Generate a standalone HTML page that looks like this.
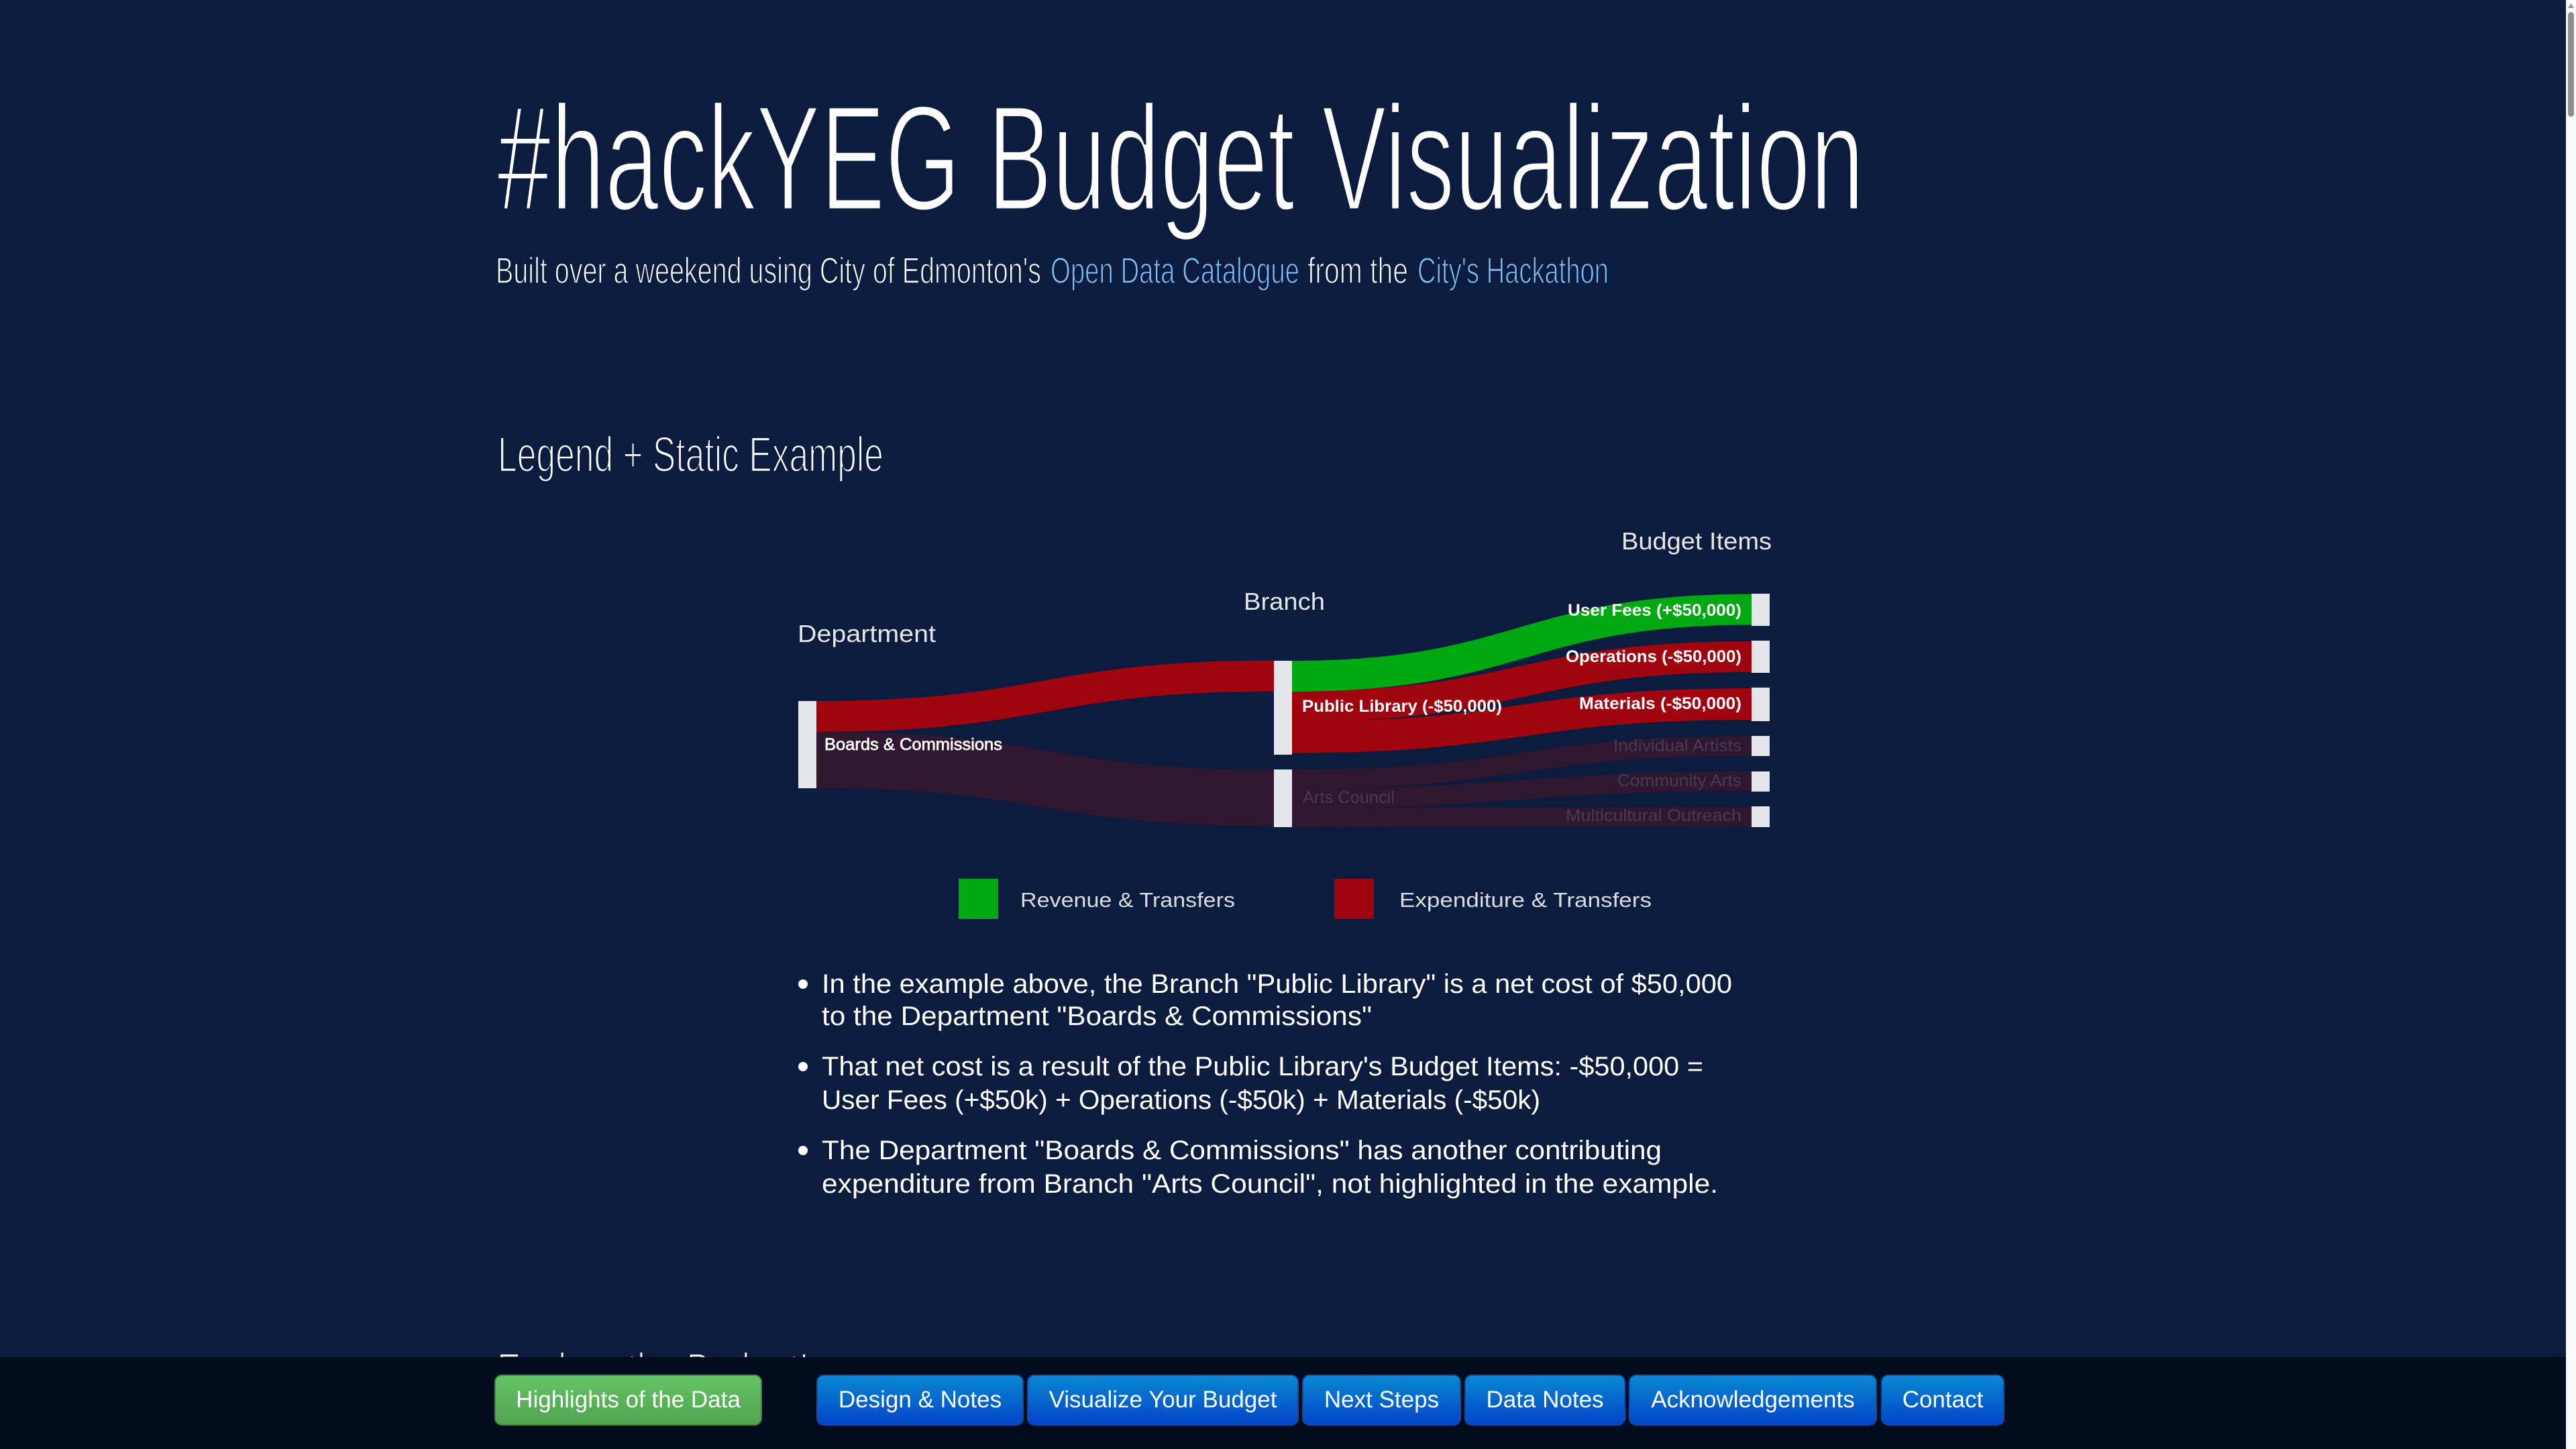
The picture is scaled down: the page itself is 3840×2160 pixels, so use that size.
<!DOCTYPE html>
<html><head><meta charset="utf-8">
<style>
html,body{margin:0;padding:0;width:3840px;height:2160px;overflow:hidden;background:#0b1c3e;}
svg{position:absolute;left:0;top:0;}
text{font-family:"Liberation Sans",Arial,sans-serif;}
</style></head>
<body>
<svg width="3840" height="2160" viewBox="0 0 3840 2160" xmlns="http://www.w3.org/2000/svg">
<defs>
<linearGradient id="gb" x1="0" y1="0" x2="0" y2="1"><stop offset="0" stop-color="#0a8ad2"/><stop offset="1" stop-color="#0243c8"/></linearGradient>
<linearGradient id="gg" x1="0" y1="0" x2="0" y2="1"><stop offset="0" stop-color="#64c464"/><stop offset="1" stop-color="#51a351"/></linearGradient>
</defs>
<rect x="0" y="0" width="3840" height="2160" fill="#0b1c3e"/>

<!-- Title -->
<text x="741" y="313" font-size="224" fill="#ffffff" stroke="#0b1c3e" stroke-width="5" textLength="2038" lengthAdjust="spacingAndGlyphs">#hackYEG Budget Visualization</text>
<!-- Subtitle -->
<g stroke="#0b1c3e" stroke-width="1.6">
<text x="739" y="422" font-size="55" fill="#ffffff" textLength="813" lengthAdjust="spacingAndGlyphs">Built over a weekend using City of Edmonton's</text>
<text x="1566" y="422" font-size="55" fill="#80bff5" textLength="371" lengthAdjust="spacingAndGlyphs">Open Data Catalogue</text>
<text x="1949" y="422" font-size="55" fill="#ffffff" textLength="150" lengthAdjust="spacingAndGlyphs">from the</text>
<text x="2113" y="422" font-size="55" fill="#80bff5" textLength="285" lengthAdjust="spacingAndGlyphs">City's Hackathon</text>
</g>

<!-- Heading -->
<text x="742" y="703" font-size="74" fill="#ffffff" stroke="#0b1c3e" stroke-width="2.5" textLength="575" lengthAdjust="spacingAndGlyphs">Legend + Static Example</text>

<!-- Sankey column titles -->
<text x="1189" y="957" font-size="36" fill="#e6e6e6" textLength="206" lengthAdjust="spacingAndGlyphs">Department</text>
<text x="1854" y="909" font-size="36" fill="#e6e6e6" textLength="121" lengthAdjust="spacingAndGlyphs">Branch</text>
<text x="2417" y="819" font-size="36" fill="#e6e6e6" textLength="224" lengthAdjust="spacingAndGlyphs">Budget Items</text>

<!-- Links: dark -->
<g fill="none" stroke="#2f1730">
<path d="M1216,1133 C1558,1133 1558,1189.5 1900,1189.5" stroke-width="84"/>
<path d="M1926,1161.5 C2268,1161.5 2268,1112 2611,1112" stroke-width="29"/>
<path d="M1926,1190 C2268,1190 2268,1164.5 2611,1164.5" stroke-width="29"/>
<path d="M1926,1218.5 C2268,1218.5 2268,1217 2611,1217" stroke-width="29"/>
</g>
<!-- Links: red/green -->
<g fill="none">
<path d="M1216,1068 C1558,1068 1558,1007.5 1900,1007.5" stroke="#a0040f" stroke-width="46"/>
<path d="M1926,1099 C2268,1099 2268,1049.5 2611,1049.5" stroke="#a0040f" stroke-width="47"/>
<path d="M1926,1053 C2268,1053 2268,979 2611,979" stroke="#a0040f" stroke-width="46"/>
<path d="M1926,1008 C2268,1008 2268,908.5 2611,908.5" stroke="#00a812" stroke-width="46"/>
</g>

<!-- Nodes -->
<g fill="#e5e6e9">
<rect x="1190" y="1045" width="27" height="130"/>
<rect x="1899" y="985" width="27" height="140"/>
<rect x="1899" y="1147" width="27" height="86"/>
<rect x="2611" y="885" width="27" height="48"/>
<rect x="2611" y="955" width="27" height="48"/>
<rect x="2611" y="1025" width="27" height="50"/>
<rect x="2611" y="1097" width="27" height="30"/>
<rect x="2611" y="1150" width="27" height="30"/>
<rect x="2611" y="1202" width="27" height="31"/>
</g>

<!-- Node labels -->
<g font-size="25">
<text x="1229" y="1118" fill="#ffffff" stroke="#ffffff" stroke-width="0.7" textLength="265" lengthAdjust="spacingAndGlyphs">Boards &amp; Commissions</text>
<text x="1941" y="1061" fill="#ffffff" font-weight="bold" textLength="298" lengthAdjust="spacingAndGlyphs">Public Library (-$50,000)</text>
<text x="1942" y="1197" fill="#473a55" textLength="137" lengthAdjust="spacingAndGlyphs">Arts Council</text>
<text x="2596" y="918" fill="#ffffff" font-weight="bold" text-anchor="end" textLength="259" lengthAdjust="spacingAndGlyphs">User Fees (+$50,000)</text>
<text x="2596" y="987" fill="#ffffff" font-weight="bold" text-anchor="end" textLength="262" lengthAdjust="spacingAndGlyphs">Operations (-$50,000)</text>
<text x="2596" y="1057" fill="#ffffff" font-weight="bold" text-anchor="end" textLength="242" lengthAdjust="spacingAndGlyphs">Materials (-$50,000)</text>
<text x="2596" y="1120" fill="#473a55" text-anchor="end" textLength="191" lengthAdjust="spacingAndGlyphs">Individual Artists</text>
<text x="2596" y="1172" fill="#473a55" text-anchor="end" textLength="185" lengthAdjust="spacingAndGlyphs">Community Arts</text>
<text x="2596" y="1224" fill="#473a55" text-anchor="end" textLength="262" lengthAdjust="spacingAndGlyphs">Multicultural Outreach</text>
</g>

<!-- Legend -->
<rect x="1429" y="1310" width="59" height="60" fill="#00a812"/>
<text x="1521" y="1352" font-size="31" fill="#dcdcdc" textLength="320" lengthAdjust="spacingAndGlyphs">Revenue &amp; Transfers</text>
<rect x="1989" y="1310" width="59" height="60" fill="#a0040f"/>
<text x="2086" y="1352" font-size="31" fill="#dcdcdc" textLength="376" lengthAdjust="spacingAndGlyphs">Expenditure &amp; Transfers</text>

<!-- Bullets -->
<g fill="#ffffff" font-size="40">
<circle cx="1197" cy="1467" r="7"/>
<text x="1225" y="1480" textLength="1357" lengthAdjust="spacingAndGlyphs">In the example above, the Branch "Public Library" is a net cost of $50,000</text>
<text x="1225" y="1528" textLength="820" lengthAdjust="spacingAndGlyphs">to the Department "Boards &amp; Commissions"</text>
<circle cx="1197" cy="1590" r="7"/>
<text x="1225" y="1603" textLength="1314" lengthAdjust="spacingAndGlyphs">That net cost is a result of the Public Library's Budget Items: -$50,000 =</text>
<text x="1225" y="1653" textLength="1071" lengthAdjust="spacingAndGlyphs">User Fees (+$50k) + Operations (-$50k) + Materials (-$50k)</text>
<circle cx="1197" cy="1715" r="7"/>
<text x="1225" y="1728" textLength="1252" lengthAdjust="spacingAndGlyphs">The Department "Boards &amp; Commissions" has another contributing</text>
<text x="1225" y="1778" textLength="1336" lengthAdjust="spacingAndGlyphs">expenditure from Branch "Arts Council", not highlighted in the example.</text>
</g>

<!-- Explore heading (mostly hidden) -->
<text x="741" y="2069" font-size="74" fill="#ffffff" stroke="#0b1c3e" stroke-width="2.5" textLength="465" lengthAdjust="spacingAndGlyphs">Explore the Budget!</text>

<!-- Bottom bar -->
<rect x="0" y="2023" width="3825" height="137" fill="#030c1c"/>

<!-- Buttons -->
<g font-size="35" fill="#ffffff" text-anchor="middle">
<rect x="738" y="2050" width="397" height="74" rx="10" fill="url(#gg)" stroke="#3f8a3f" stroke-width="2"/>
<text x="936.5" y="2098">Highlights of the Data</text>
<rect x="1218" y="2050" width="307" height="74" rx="10" fill="url(#gb)" stroke="#0a4fa8" stroke-width="2"/>
<text x="1371.5" y="2098">Design &amp; Notes</text>
<rect x="1532" y="2050" width="403" height="74" rx="10" fill="url(#gb)" stroke="#0a4fa8" stroke-width="2"/>
<text x="1733.5" y="2098">Visualize Your Budget</text>
<rect x="1942" y="2050" width="235" height="74" rx="10" fill="url(#gb)" stroke="#0a4fa8" stroke-width="2"/>
<text x="2059.5" y="2098">Next Steps</text>
<rect x="2184" y="2050" width="238" height="74" rx="10" fill="url(#gb)" stroke="#0a4fa8" stroke-width="2"/>
<text x="2303" y="2098">Data Notes</text>
<rect x="2429" y="2050" width="368" height="74" rx="10" fill="url(#gb)" stroke="#0a4fa8" stroke-width="2"/>
<text x="2613" y="2098">Acknowledgements</text>
<rect x="2805" y="2050" width="182" height="74" rx="10" fill="url(#gb)" stroke="#0a4fa8" stroke-width="2"/>
<text x="2896" y="2098">Contact</text>
</g>

<!-- Scrollbar -->
<rect x="3825" y="0" width="15" height="2160" fill="#fafafa"/>
<path d="M3828,12 L3832.5,5 L3837,12 Z" fill="#8f8f8f"/>
<rect x="3828" y="18" width="9" height="156" rx="4.5" fill="#8f8f8f"/>
</svg>
</body></html>
